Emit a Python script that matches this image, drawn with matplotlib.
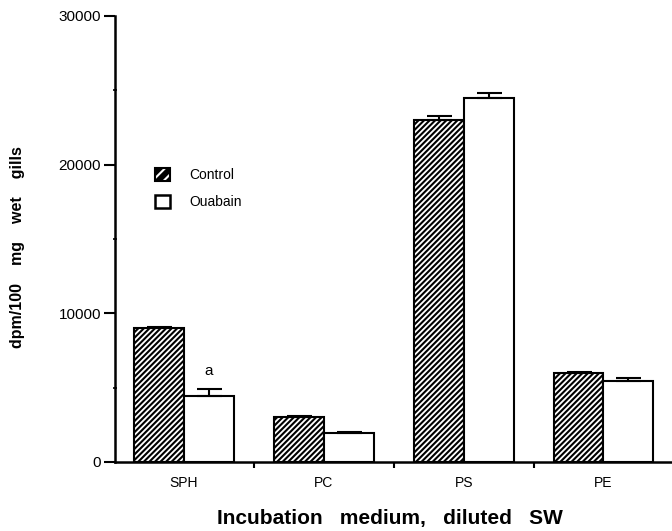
import matplotlib
matplotlib.use("Agg")
import matplotlib.pyplot as plt
import numpy as np
from matplotlib.patches import Patch
from matplotlib.legend_handler import HandlerTuple

plt.rcParams['font.family'] = ['Liberation Sans', 'DejaVu Sans']
plt.rcParams['hatch.linewidth'] = 1.5

# values
groups = ['SPH', 'PC', 'PS', 'PE']
control = [9000, 3000, 23000, 6000]
control_err = [100, 80, 300, 80]
ouabain = [4450, 1950, 24500, 5450]
ouabain_err = [450, 60, 350, 220]

x = np.arange(len(groups))
w = 0.357

fig = plt.figure(figsize=(6.72, 5.31), dpi=100)
ax = fig.add_axes([0.171, 0.130, 0.829, 0.840])

ax.bar(x - w / 2, control, w, facecolor='white', edgecolor='black',
       hatch='//////', linewidth=1.5, label='Control')
ax.bar(x + w / 2, ouabain, w, facecolor='white', edgecolor='black',
       linewidth=1.5, label='Ouabain')
ax.errorbar(x - w / 2, control, yerr=[np.zeros(4), control_err], fmt='none',
            ecolor='black', elinewidth=1.5, capsize=9, capthick=1.5)
ax.errorbar(x + w / 2, ouabain, yerr=[np.zeros(4), ouabain_err], fmt='none',
            ecolor='black', elinewidth=1.5, capsize=9, capthick=1.5)

# significance mark above the SPH ouabain bar
ax.text(x[0] + w / 2, ouabain[0] + ouabain_err[0] + 1250, 'a',
        ha='center', va='center', fontsize=11)

ax.set_xlim(-0.494, 3.49)
ax.set_ylim(0, 30000)
ax.set_yticks([0, 10000, 20000, 30000])
ax.set_yticks([5000, 15000, 25000], minor=True)
ax.set_xticks(x)
ax.set_xticklabels(groups, fontsize=10)
ax.set_xticks([0.5, 1.5, 2.5], minor=True)
ax.tick_params(axis='x', which='major', length=0, pad=10)
ax.tick_params(axis='x', which='minor', length=4, width=1.5, direction='out')
ax.tick_params(axis='y', which='major', length=8, width=1.5, pad=2,
               labelsize=11)
ax.tick_params(axis='y', which='minor', length=3, width=1.2, direction='inout')

for side in ['top', 'right']:
    ax.spines[side].set_visible(False)
for side in ['left', 'bottom']:
    ax.spines[side].set_linewidth(1.8)

# legend: dark square with light stripes, and an empty square
ctrl_handle = (Patch(facecolor='black', edgecolor='white', hatch='///', linewidth=0),
               Patch(facecolor='none', edgecolor='black', linewidth=1.5))
ouab_handle = Patch(facecolor='white', edgecolor='black', linewidth=1.8)
ax.legend([ctrl_handle, ouab_handle], ['Control', 'Ouabain'], loc='upper left',
          bbox_to_anchor=(0.072, 0.66), frameon=False, fontsize=10,
          borderpad=0, borderaxespad=0, handlelength=1.08, handleheight=1.08,
          handletextpad=1.4, labelspacing=0.95,
          handler_map={tuple: HandlerTuple(ndivide=1, pad=0)})

fig.text(0.026, 0.535, 'dpm/100    mg    wet    gills', rotation=90,
         ha='center', va='center', fontsize=11.5, fontweight='bold')
fig.text(0.581, 0.023, 'Incubation   medium,   diluted   SW',
         ha='center', va='center', fontsize=15, fontweight='bold')

fig.savefig('out.png', dpi=100)
